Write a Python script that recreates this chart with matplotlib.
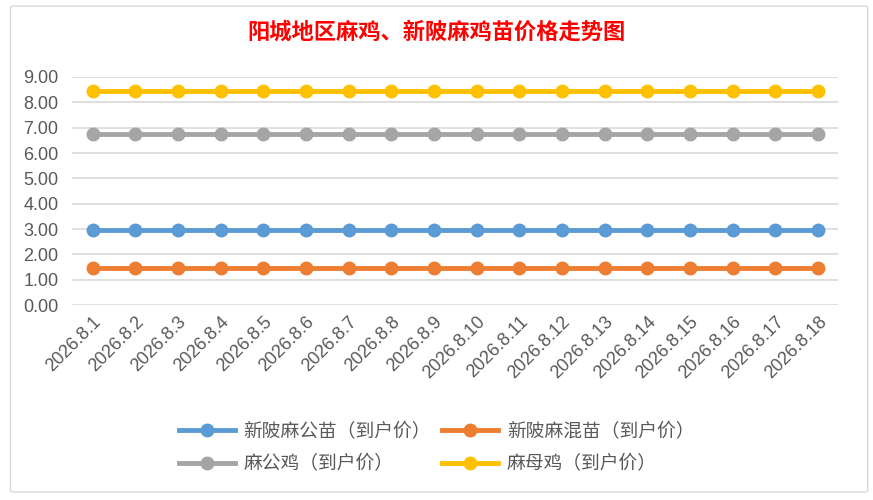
import matplotlib.pyplot as plt
from matplotlib.patches import FancyBboxPatch

plt.rcParams['font.family'] = ['Noto Sans CJK SC', 'DejaVu Sans']

dates = ['2026.8.%d' % d for d in range(1, 19)]
gongmiao = [2.95] * 18      # 新陂麻公苗
hunmiao = [1.45] * 18       # 新陂麻混苗
gongji = [6.75] * 18        # 麻公鸡
muji = [8.45] * 18          # 麻母鸡

series = [
    ('新陂麻公苗（到户价）', gongmiao, '#5b9bd5'),
    ('新陂麻混苗（到户价）', hunmiao, '#ed7d31'),
    ('麻公鸡（到户价）', gongji, '#a5a5a5'),
    ('麻母鸡（到户价）', muji, '#ffc000'),
]

fig = plt.figure(figsize=(8.73, 5), dpi=100)
# chart frame
fig.patches.append(FancyBboxPatch((0.012, 0.016), 0.982, 0.972, boxstyle='round,pad=0,rounding_size=0.004',
                                  transform=fig.transFigure, fill=False, edgecolor='#d9d9d9', linewidth=1))

ax = fig.add_axes([0.083, 0.39, 0.877, 0.456])
x = list(range(len(dates)))
lines = []
for name, vals, col in series:
    ln, = ax.plot(x, vals, '-o', color=col, linewidth=3.5, markersize=9, label=name)
    lines.append(ln)

ax.set_ylim(0, 9)
ax.set_yticks(range(10))
ax.set_yticklabels(['%.2f' % v for v in range(10)])
ax.set_xlim(-0.47, 17.47)
ax.set_xticks(x)
ax.set_xticklabels(dates, rotation=45, ha='right', rotation_mode='anchor')
ax.grid(axis='y', color='#d9d9d9', linewidth=1.2)
ax.set_axisbelow(True)
for s in ax.spines.values():
    s.set_visible(False)
ax.tick_params(length=0, colors='#595959', labelsize=13)
ax.tick_params(axis='y', pad=10)
ax.tick_params(axis='x', pad=6)
for lb in ax.get_xticklabels() + ax.get_yticklabels():
    lb.set_family(['Liberation Sans', 'DejaVu Sans'])

fig.text(0.5, 0.935, '阳城地区麻鸡、新陂麻鸡苗价格走势图', ha='center', va='center',
         color='red', fontsize=16, fontweight='bold')

order = [0, 2, 1, 3]
leg = fig.legend([lines[i] for i in order], [series[i][0] for i in order],
                 loc='center', bbox_to_anchor=(0.5, 0.105), ncol=2, frameon=False,
                 fontsize=13.5, handlelength=3.0, handletextpad=0.45, columnspacing=0.6,
                 labelspacing=0.6, labelcolor='#595959')

fig.savefig('out.png', dpi=100)
